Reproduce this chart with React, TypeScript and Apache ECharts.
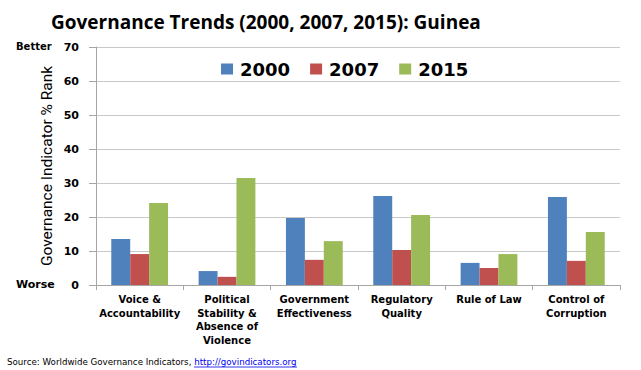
import React, { useEffect, useRef } from "react";
import * as echarts from "echarts";

const categories = [
  "Voice &\nAccountability",
  "Political\nStability &\nAbsence of\nViolence",
  "Government\nEffectiveness",
  "Regulatory\nQuality",
  "Rule of Law",
  "Control of\nCorruption",
];
const seriesNames = ["2000", "2007", "2015"];
const values2000 = [13.5, 4.1, 19.7, 26.2, 6.5, 25.9];
const values2007 = [9.1, 2.4, 7.4, 10.3, 5.0, 7.1];
const values2015 = [24.1, 31.5, 12.9, 20.6, 9.1, 15.6];
const colors = ["#4F81BD", "#C0504D", "#9BBB59"];

export default function App() {
  const ref = useRef<HTMLDivElement>(null);
  useEffect(() => {
    if (!ref.current) return;
    const chart = echarts.init(ref.current, null, { renderer: "svg" });
    const data = [values2000, values2007, values2015];
    chart.setOption({
      animation: false,
      backgroundColor: "#fff",
      title: {
        text: "Governance Trends (2000, 2007, 2015): Guinea",
        left: 46,
        top: 7,
        textStyle: {
          fontFamily: "Open Sans",
          fontWeight: "bold",
          fontSize: 19,
          color: "#000",
        },
      },
      legend: {
        data: seriesNames,
        left: 216,
        top: 55,
        itemWidth: 12,
        itemHeight: 11,
        itemGap: 20,
        icon: "rect",
        textStyle: {
          fontFamily: "DejaVu Sans",
          fontWeight: "bold",
          fontSize: 18,
          color: "#000",
          padding: [0, 0, 0, 2],
        },
      },
      grid: { left: 96, right: 21, top: 47, bottom: 85, containLabel: false },
      xAxis: {
        type: "category",
        data: categories,
        axisLine: { lineStyle: { color: "#A6A6A6" } },
        axisTick: { show: true, length: 5, lineStyle: { color: "#A6A6A6" } },
        axisLabel: {
          interval: 0,
          margin: 8,
          fontFamily: "DejaVu Sans",
          fontWeight: "bold",
          fontSize: 10,
          lineHeight: 13.5,
          color: "#000",
        },
      },
      yAxis: {
        type: "value",
        min: 0,
        max: 70,
        interval: 10,
        name: "Governance Indicator % Rank",
        nameLocation: "middle",
        nameGap: 41,
        nameMoveOverlap: false,
        nameTextStyle: {
          fontFamily: "Roboto",
          fontSize: 15.5,
          color: "#000",
        },
        axisLine: { show: true, lineStyle: { color: "#A6A6A6" } },
        axisTick: { show: true, length: 7, lineStyle: { color: "#A6A6A6" } },
        splitLine: { lineStyle: { color: "#C8C8C8" } },
        axisLabel: {
          margin: 17,
          fontFamily: "DejaVu Sans",
          fontWeight: "bold",
          fontSize: 11,
          color: "#000",
        },
      },
      series: seriesNames.map((name, i) => ({
        name,
        type: "bar",
        data: data[i],
        barGap: "0%",
        barCategoryGap: "35%",
        itemStyle: { color: colors[i] },
      })),
      graphic: [
        {
          type: "text",
          left: 16,
          top: 41,
          style: {
            text: "Better",
            fontFamily: "DejaVu Sans",
            fontWeight: "bold",
            fontSize: 10,
            fill: "#000",
          },
        },
        {
          type: "text",
          left: 16,
          top: 279,
          style: {
            text: "Worse",
            fontFamily: "DejaVu Sans",
            fontWeight: "bold",
            fontSize: 11,
            fill: "#000",
          },
        },
        {
          type: "text",
          left: 7,
          top: 357,
          style: {
            text: "{a|Source: Worldwide Governance Indicators, }{b|http://govindicators.org}",
            rich: {
              a: { fontFamily: "DejaVu Sans", fontSize: 8.7, fill: "#000" },
              b: { fontFamily: "DejaVu Sans", fontSize: 8.7, fill: "#0000EE" },
            },
          },
        },
        {
          type: "line",
          shape: { x1: 194, y1: 367, x2: 297, y2: 367 },
          style: { stroke: "#0000EE", lineWidth: 0.8 },
        },
      ],
    });
    return () => chart.dispose();
  }, []);
  return <div ref={ref} style={{ width: 641, height: 370, position: "absolute", left: 0, top: 0 }} />;
}
